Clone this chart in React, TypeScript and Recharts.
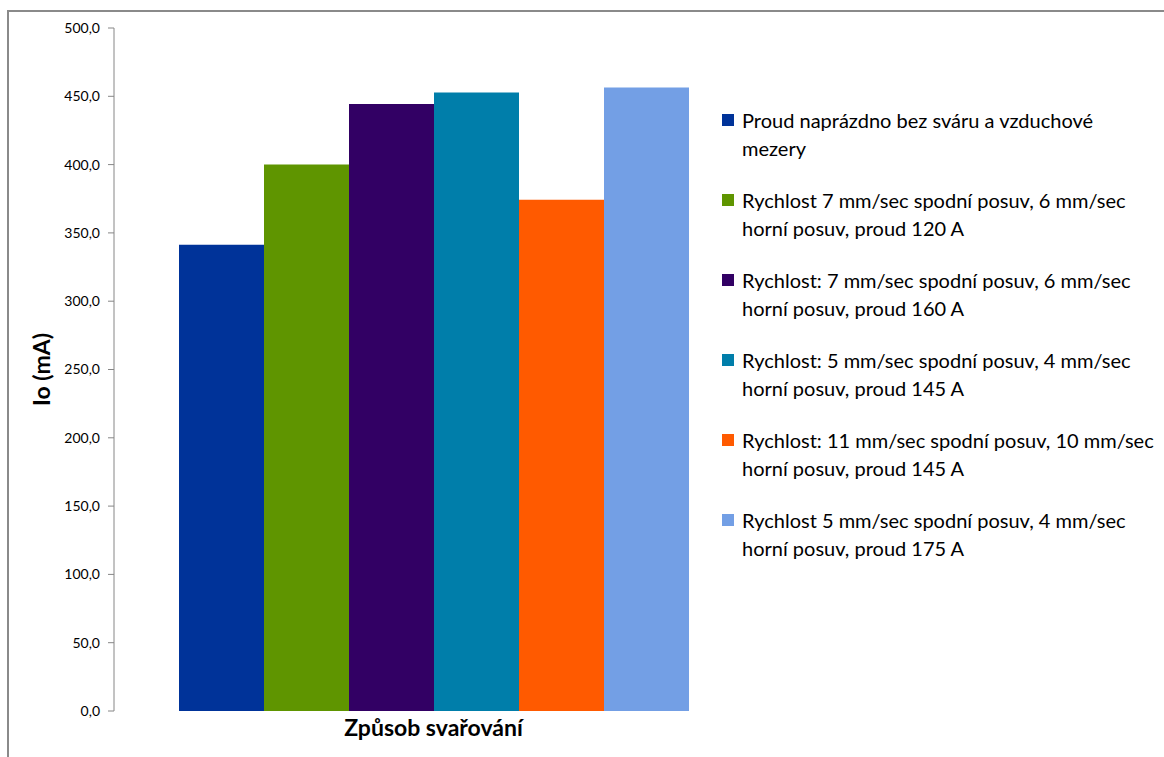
import { Bar, BarChart, Legend, XAxis, YAxis } from "recharts";

const category = ["Způsob svařování"];

const seriesNames = [
  "Proud naprázdno bez sváru a vzduchové\nmezery",
  "Rychlost 7 mm/sec spodní posuv, 6 mm/sec\nhorní posuv, proud 120 A",
  "Rychlost: 7 mm/sec spodní posuv, 6 mm/sec\nhorní posuv, proud 160 A",
  "Rychlost: 5 mm/sec spodní posuv, 4 mm/sec\nhorní posuv, proud 145 A",
  "Rychlost: 11 mm/sec spodní posuv, 10 mm/sec\nhorní posuv, proud 145 A",
  "Rychlost 5 mm/sec spodní posuv, 4 mm/sec\nhorní posuv, proud 175 A",
];

const seriesValues = [341.3, 400.0, 444.3, 452.8, 374.2, 456.5];

const seriesColors = ["#003399", "#5f9500", "#320064", "#007eaa", "#ff5a00", "#739fe5"];

const yTicks = [0, 50, 100, 150, 200, 250, 300, 350, 400, 450, 500];

const FONT = "Lato, 'Open Sans', sans-serif";

// one category, one column per series
const data = category.map((c) => {
  const row: Record<string, string | number> = { name: c };
  seriesValues.forEach((v, i) => {
    row["s" + i] = v;
  });
  return row;
});

function LegendBox() {
  return (
    <div style={{ fontFamily: FONT, fontSize: 20, color: "#000" }}>
      {seriesNames.map((n, i) => (
        <div
          key={n}
          style={{ position: "relative", paddingLeft: 20, height: 80, lineHeight: "28px", whiteSpace: "pre-line" }}
        >
          <span
            style={{
              position: "absolute",
              left: 0,
              top: 8,
              width: 12,
              height: 12,
              background: seriesColors[i],
            }}
          />
          {n}
        </div>
      ))}
    </div>
  );
}

export default function App() {
  return (
    <div
      style={{
        position: "absolute",
        left: 0,
        top: 0,
        width: 1164,
        height: 757,
        overflow: "hidden",
        background: "#fff",
      }}
    >
      <div
        style={{
          position: "absolute",
          left: 7,
          top: 10,
          width: 1300,
          height: 900,
          border: "2px solid #8a8a8a",
        }}
      />
      <div style={{ position: "absolute", left: 0, top: 0 }}>
        <BarChart
          width={1164}
          height={757}
          data={data}
          margin={{ top: 28, right: 411, bottom: 0, left: 20 }}
          barGap={0}
          barSize={85}
        >
          <XAxis
            dataKey="name"
            height={46}
            axisLine={false}
            tickLine={false}
            tick={false}
            label={{
              value: category[0],
              position: "insideTop",
              offset: 9,
              style: { fontFamily: FONT, fontSize: 23, fontWeight: 700, fill: "#000" },
            }}
          />
          <YAxis
            width={94}
            domain={[0, 500]}
            ticks={yTicks}
            interval={0}
            tickFormatter={(v: number) => v.toFixed(1).replace(".", ",")}
            stroke="#868686"
            tickSize={6}
            tickMargin={8}
            tick={{ fontFamily: FONT, fontSize: 14, fill: "#000" }}
            label={{
              value: "Io (mA)",
              angle: -90,
              position: "insideLeft",
              offset: 22,
              style: { textAnchor: "middle", fontFamily: FONT, fontSize: 23, fontWeight: 700, fill: "#000" },
            }}
          />
          <Legend
            layout="horizontal"
            verticalAlign="middle"
            align="center"
            content={<LegendBox />}
            wrapperStyle={{ left: 722, top: 106, width: 442, height: 480 }}
          />
          {seriesValues.map((_, i) => (
            <Bar
              key={i}
              dataKey={"s" + i}
              name={seriesNames[i]}
              fill={seriesColors[i]}
              isAnimationActive={false}
            />
          ))}
        </BarChart>
      </div>
    </div>
  );
}
